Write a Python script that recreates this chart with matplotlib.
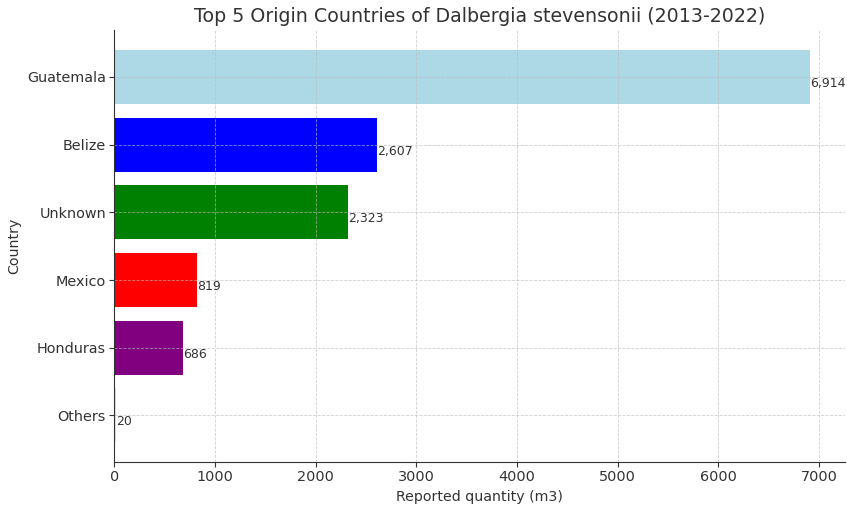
import matplotlib.pyplot as plt

countries = ['Guatemala', 'Belize', 'Unknown', 'Mexico', 'Honduras', 'Others']
quantities = [6914, 2607, 2323, 819, 686, 20]
colors = ['lightblue', 'blue', 'green', 'red', 'purple', 'yellow']

plt.rcParams['text.color'] = '#333333'
plt.rcParams['axes.labelcolor'] = '#333333'
plt.rcParams['xtick.color'] = '#333333'
plt.rcParams['ytick.color'] = '#333333'

fig, ax = plt.subplots(figsize=(8.47, 5.05), dpi=100)
fig.subplots_adjust(left=0.135, right=0.998, bottom=0.085, top=0.94)

bars = ax.barh(countries, quantities, color=colors)
ax.invert_yaxis()

for bar, q in zip(bars, quantities):
    ax.text(bar.get_width(), bar.get_y() + bar.get_height() / 2, f'{q:,}',
            ha='left', va='top', fontsize=9)

ax.set_title('Top 5 Origin Countries of Dalbergia stevensonii (2013-2022)', fontsize=13.7)
ax.set_xlabel('Reported quantity (m3)', fontsize=10.2)
ax.set_ylabel('Country', fontsize=10.2)
ax.tick_params(labelsize=10.4, length=3.5, pad=2.5)
ax.grid(True, linestyle='--', linewidth=0.6, color='#bbbbbb', alpha=0.7)
ax.spines['top'].set_visible(False)
ax.spines['right'].set_visible(False)
ax.spines['left'].set_color('#333333')
ax.spines['bottom'].set_color('#333333')

plt.savefig('out.png')
